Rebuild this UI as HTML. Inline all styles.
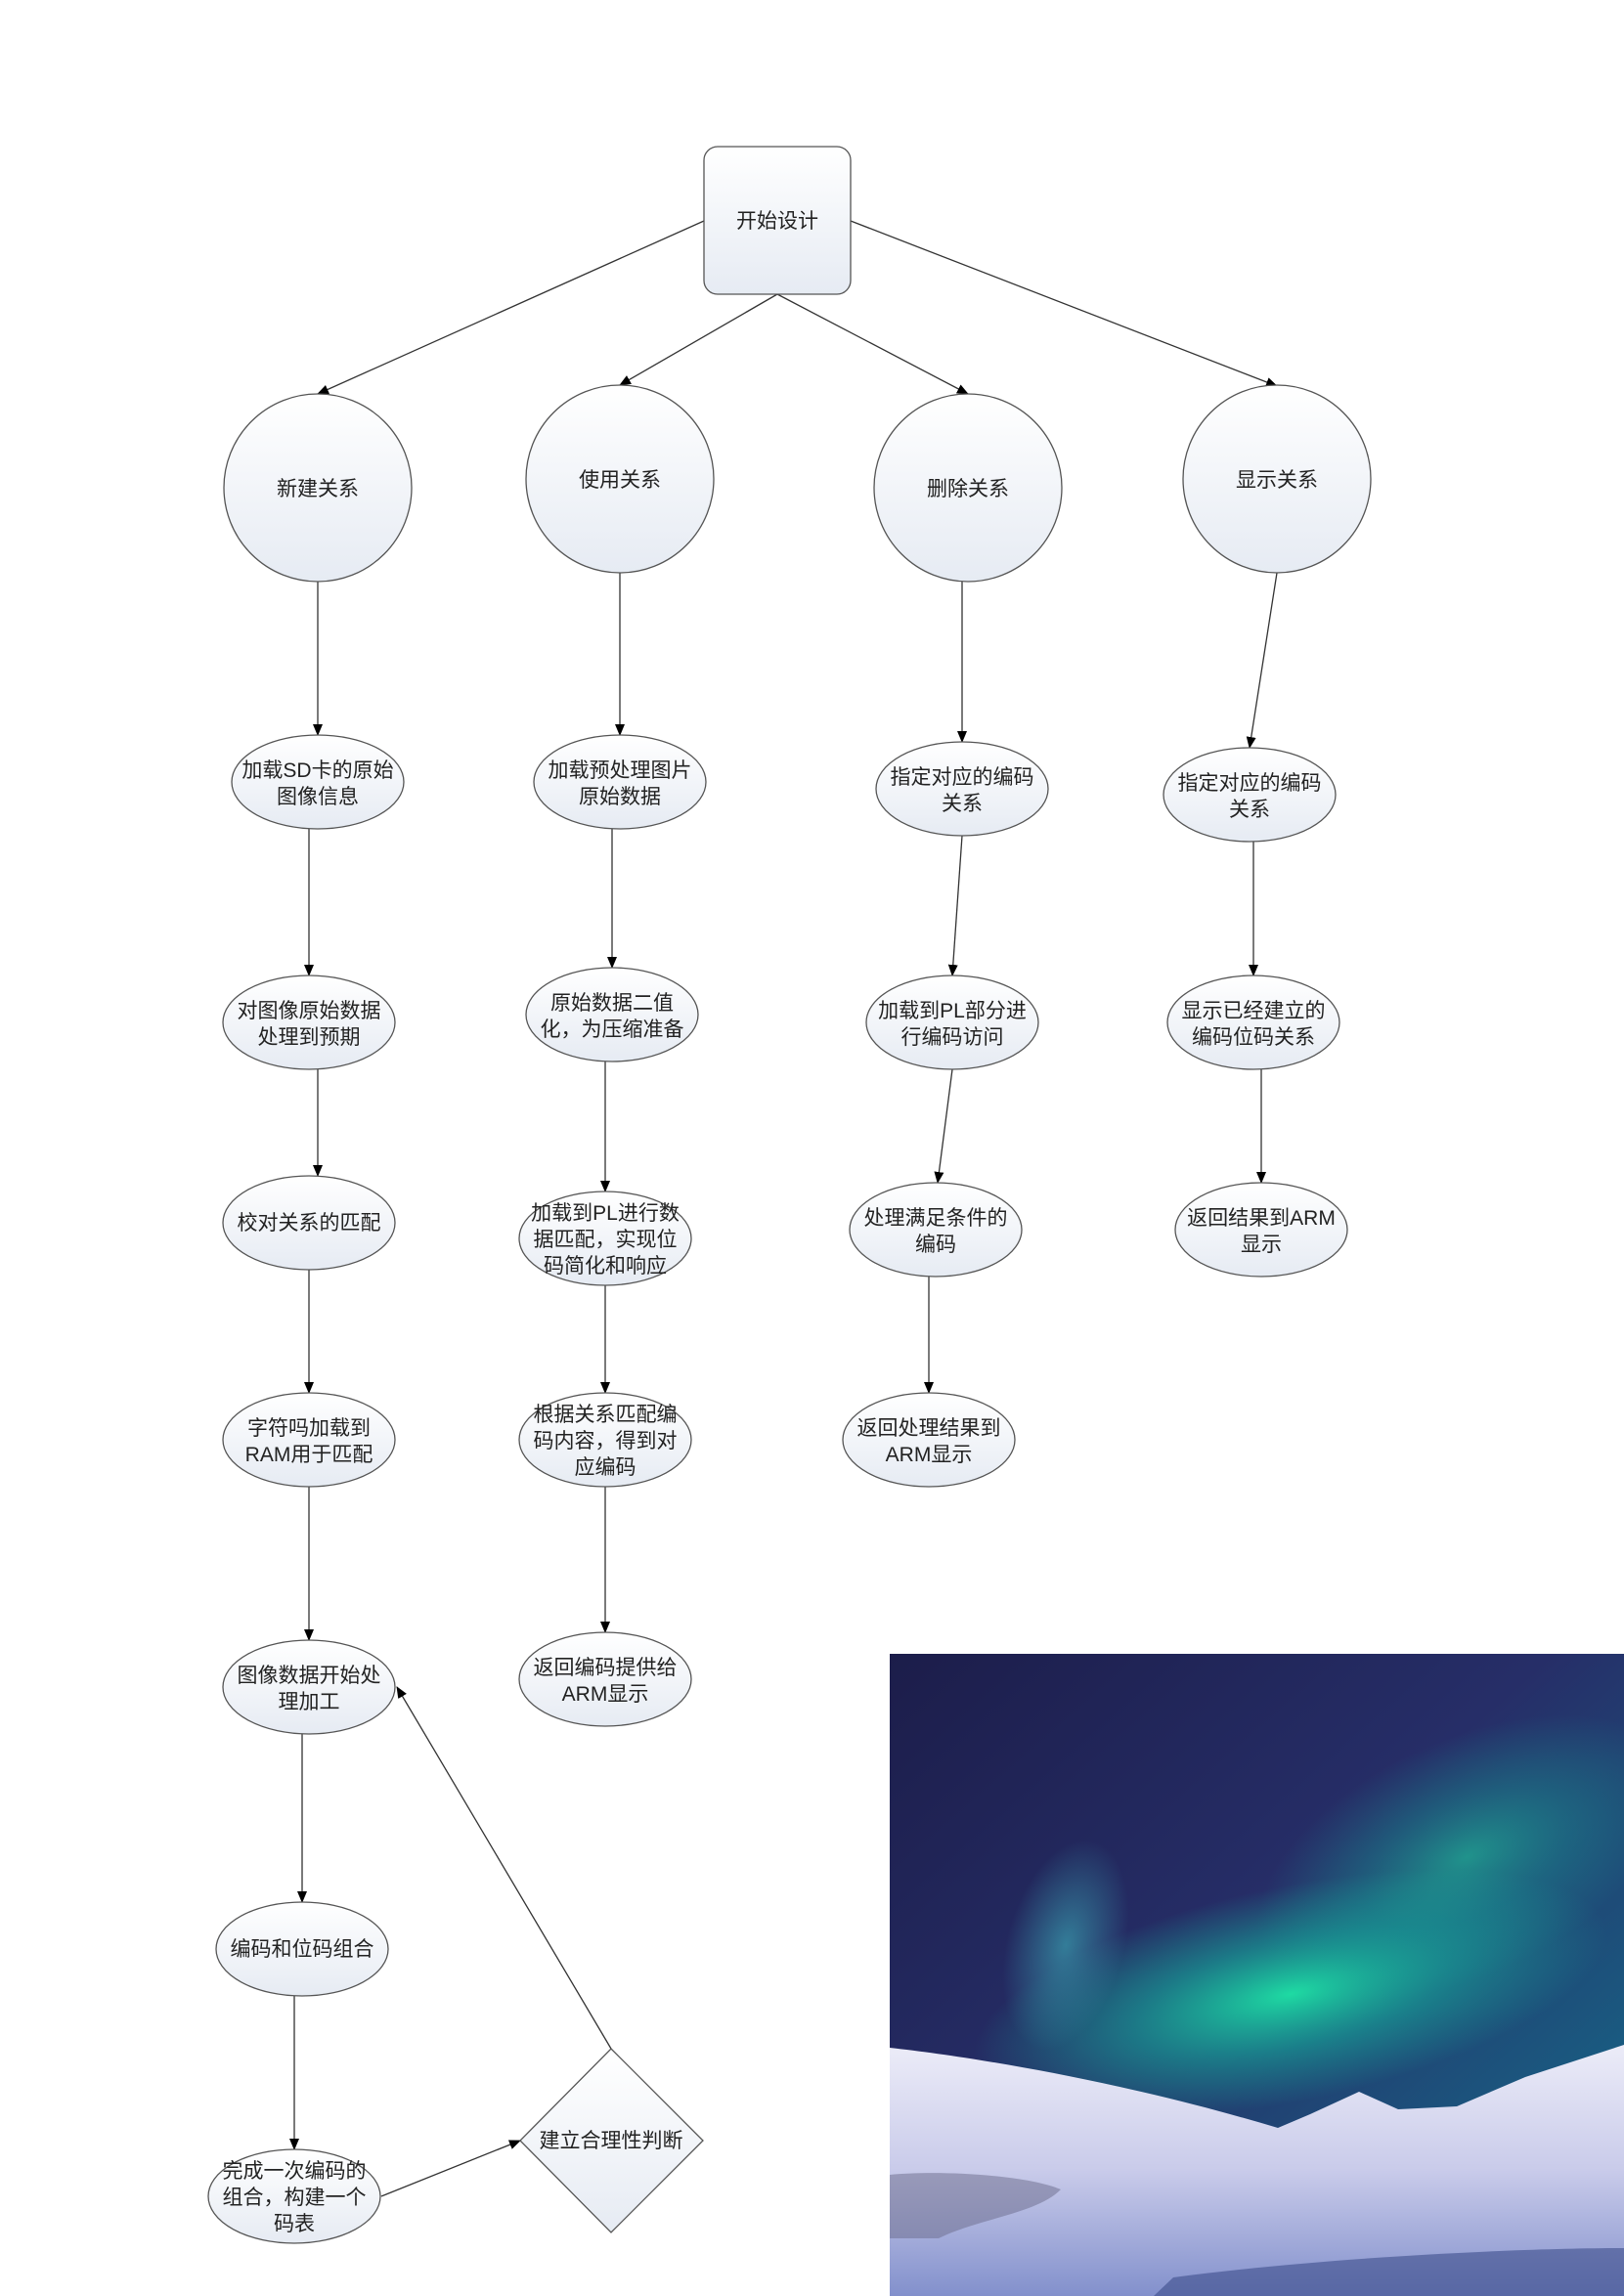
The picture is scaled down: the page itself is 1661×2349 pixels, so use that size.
<!DOCTYPE html>
<html><head><meta charset="utf-8"><style>
html,body{margin:0;padding:0;background:#fff;}
svg{display:block;}
text{font-family:"Liberation Sans","Noto Sans CJK SC",sans-serif;font-size:21px;fill:#222;text-anchor:middle;}
</style></head><body>
<svg width="1661" height="2349" viewBox="0 0 1661 2349" xmlns="http://www.w3.org/2000/svg">
<defs>
<linearGradient id="g" x1="0" y1="0" x2="0" y2="1"><stop offset="0" stop-color="#ffffff"/><stop offset="1" stop-color="#e6ebf3"/></linearGradient>
<marker id="a" markerWidth="12" markerHeight="12" refX="11" refY="6" orient="auto" markerUnits="userSpaceOnUse"><path d="M0,1 L12,6 L0,11 z" fill="#000"/></marker>
<linearGradient id="sky" x1="0" y1="0" x2="1" y2="1"><stop offset="0" stop-color="#1c1d4a"/><stop offset="0.45" stop-color="#262e68"/><stop offset="0.8" stop-color="#1a5a80"/></linearGradient>
<radialGradient id="aur" cx="0.5" cy="0.5" r="0.5"><stop offset="0" stop-color="#1ee3a6" stop-opacity="0.95"/><stop offset="0.5" stop-color="#16a89a" stop-opacity="0.6"/><stop offset="1" stop-color="#16a89a" stop-opacity="0"/></radialGradient>
<radialGradient id="aur2" cx="0.5" cy="0.5" r="0.5"><stop offset="0" stop-color="#3aa0b0" stop-opacity="0.7"/><stop offset="1" stop-color="#3aa0b0" stop-opacity="0"/></radialGradient>
<linearGradient id="snow" x1="0" y1="0" x2="0" y2="1"><stop offset="0" stop-color="#ececf8"/><stop offset="0.5" stop-color="#c9cbea"/><stop offset="1" stop-color="#8290cc"/></linearGradient>
</defs>
<g stroke="#333" stroke-width="1.3" fill="none" marker-end="url(#a)">
<line x1="720" y1="226" x2="325" y2="403"/>
<line x1="795" y1="301" x2="634" y2="394"/>
<line x1="795" y1="301" x2="990" y2="403"/>
<line x1="870" y1="226" x2="1306" y2="395"/>
<line x1="325" y1="595" x2="325" y2="752"/>
<line x1="316" y1="848" x2="316" y2="998"/>
<line x1="325" y1="1094" x2="325" y2="1203"/>
<line x1="316" y1="1299" x2="316" y2="1425"/>
<line x1="316" y1="1521" x2="316" y2="1678"/>
<line x1="309" y1="1774" x2="309" y2="1946"/>
<line x1="301" y1="2042" x2="301" y2="2199"/>
<line x1="390" y1="2247" x2="532" y2="2190"/>
<line x1="625" y1="2096" x2="406" y2="1726"/>
<line x1="634" y1="586" x2="634" y2="752"/>
<line x1="626" y1="848" x2="626" y2="990"/>
<line x1="619" y1="1086" x2="619" y2="1219"/>
<line x1="619" y1="1315" x2="619" y2="1425"/>
<line x1="619" y1="1521" x2="619" y2="1670"/>
<line x1="984" y1="595" x2="984" y2="759"/>
<line x1="984" y1="855" x2="974" y2="998"/>
<line x1="974" y1="1094" x2="959" y2="1210"/>
<line x1="950" y1="1306" x2="950" y2="1425"/>
<line x1="1306" y1="586" x2="1278" y2="765"/>
<line x1="1282" y1="861" x2="1282" y2="998"/>
<line x1="1290" y1="1094" x2="1290" y2="1210"/>
</g>
<g fill="url(#g)" stroke="#555" stroke-width="1.3">
<rect x="720" y="150" width="150" height="151" rx="14"/>
<circle cx="325" cy="499" r="96"/>
<circle cx="634" cy="490" r="96"/>
<circle cx="990" cy="499" r="96"/>
<circle cx="1306" cy="490" r="96"/>
<ellipse cx="325" cy="800" rx="88" ry="48"/>
<ellipse cx="316" cy="1046" rx="88" ry="48"/>
<ellipse cx="316" cy="1251" rx="88" ry="48"/>
<ellipse cx="316" cy="1473" rx="88" ry="48"/>
<ellipse cx="316" cy="1726" rx="88" ry="48"/>
<ellipse cx="309" cy="1994" rx="88" ry="48"/>
<ellipse cx="301" cy="2247" rx="88" ry="48"/>
<polygon points="625,2096 719,2190 625,2284 532,2190"/>
<ellipse cx="634" cy="800" rx="88" ry="48"/>
<ellipse cx="626" cy="1038" rx="88" ry="48"/>
<ellipse cx="619" cy="1267" rx="88" ry="48"/>
<ellipse cx="619" cy="1473" rx="88" ry="48"/>
<ellipse cx="619" cy="1718" rx="88" ry="48"/>
<ellipse cx="984" cy="807" rx="88" ry="48"/>
<ellipse cx="974" cy="1046" rx="88" ry="48"/>
<ellipse cx="957" cy="1258" rx="88" ry="48"/>
<ellipse cx="950" cy="1473" rx="88" ry="48"/>
<ellipse cx="1278" cy="813" rx="88" ry="48"/>
<ellipse cx="1282" cy="1046" rx="88" ry="48"/>
<ellipse cx="1290" cy="1258" rx="88" ry="48"/>
</g>
<g>
<text x="795" y="233">开始设计</text>
<text x="325" y="507">新建关系</text>
<text x="634" y="498">使用关系</text>
<text x="990" y="507">删除关系</text>
<text x="1306" y="498">显示关系</text>
<text x="325" y="795">加载SD卡的原始</text><text x="325" y="822">图像信息</text>
<text x="316" y="1041">对图像原始数据</text><text x="316" y="1068">处理到预期</text>
<text x="316" y="1258">校对关系的匹配</text>
<text x="316" y="1468">字符吗加载到</text><text x="316" y="1495">RAM用于匹配</text>
<text x="316" y="1721">图像数据开始处</text><text x="316" y="1748">理加工</text>
<text x="309" y="2001">编码和位码组合</text>
<text x="301" y="2228">完成一次编码的</text><text x="301" y="2255">组合，构建一个</text><text x="301" y="2282">码表</text>
<text x="625" y="2197">建立合理性判断</text>
<text x="634" y="795">加载预处理图片</text><text x="634" y="822">原始数据</text>
<text x="626" y="1033">原始数据二值</text><text x="626" y="1060">化，为压缩准备</text>
<text x="619" y="1248">加载到PL进行数</text><text x="619" y="1275">据匹配，实现位</text><text x="619" y="1302">码简化和响应</text>
<text x="619" y="1454">根据关系匹配编</text><text x="619" y="1481">码内容，得到对</text><text x="619" y="1508">应编码</text>
<text x="619" y="1713">返回编码提供给</text><text x="619" y="1740">ARM显示</text>
<text x="984" y="802">指定对应的编码</text><text x="984" y="829">关系</text>
<text x="974" y="1041">加载到PL部分进</text><text x="974" y="1068">行编码访问</text>
<text x="957" y="1253">处理满足条件的</text><text x="957" y="1280">编码</text>
<text x="950" y="1468">返回处理结果到</text><text x="950" y="1495">ARM显示</text>
<text x="1278" y="808">指定对应的编码</text><text x="1278" y="835">关系</text>
<text x="1282" y="1041">显示已经建立的</text><text x="1282" y="1068">编码位码关系</text>
<text x="1290" y="1253">返回结果到ARM</text><text x="1290" y="1280">显示</text>
</g>
<g>
<rect x="910" y="1692" width="751" height="657" fill="url(#sky)"/>
<ellipse cx="1320" cy="2040" rx="330" ry="110" fill="url(#aur)" transform="rotate(-12 1320 2040)"/>
<ellipse cx="1500" cy="1900" rx="230" ry="120" fill="url(#aur)" opacity="0.55" transform="rotate(-25 1500 1900)"/>
<ellipse cx="1090" cy="1990" rx="60" ry="110" fill="url(#aur2)" transform="rotate(15 1090 1990)"/>
<path d="M910,2095 C1000,2105 1150,2130 1307,2177 L1340,2163 L1390,2140 L1430,2158 L1490,2155 L1560,2125 L1661,2092 L1661,2349 L910,2349 Z" fill="url(#snow)"/>
<path d="M910,2225 C960,2220 1050,2225 1085,2240 C1060,2265 1000,2270 960,2290 L910,2290 Z" fill="#6a6a8a" opacity="0.5"/>
<path d="M1200,2330 C1350,2310 1550,2300 1661,2300 L1661,2349 L1180,2349 Z" fill="#3c4c8a" opacity="0.6"/>
</g>
</svg>
</body></html>
